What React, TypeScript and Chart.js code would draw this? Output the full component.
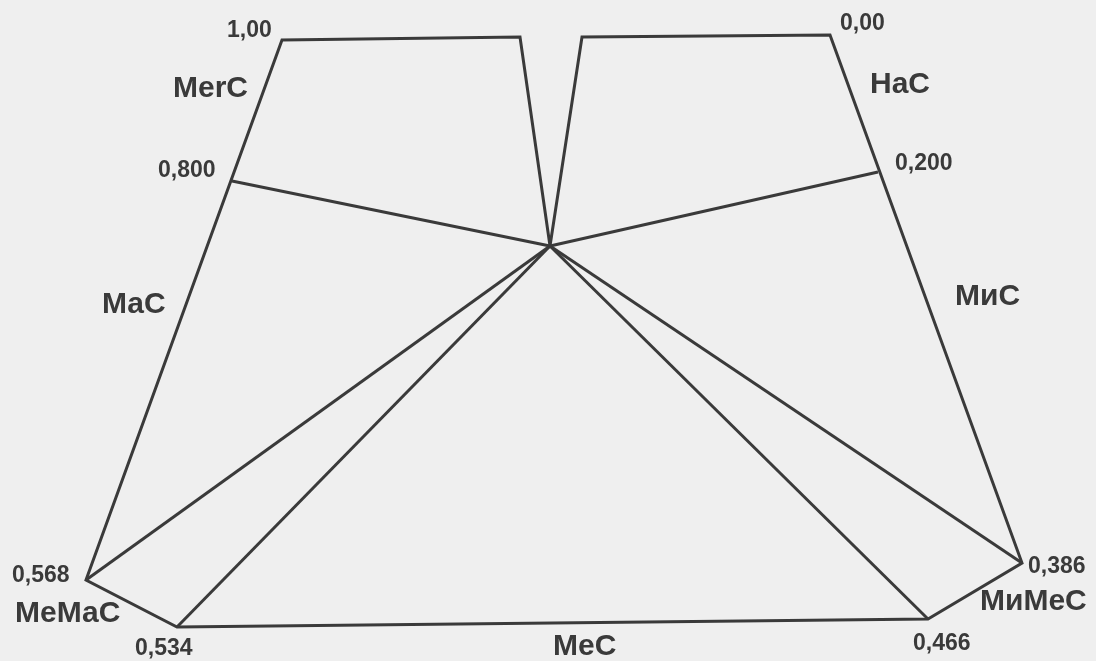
import React, { useEffect, useRef } from "react";
import { Chart, registerables } from "chart.js";

Chart.register(...registerables);

// Scale values marked on the diagram (read clockwise from top-left)
const scaleValues = ["1,00", "0,800", "0,568", "0,534", "0,466", "0,386", "0,200", "0,00"];
// Category names of the sectors
const categories = ["МеrС", "МаС", "МеМаС", "МеС", "МиМеС", "МиС", "НаС"];

// Diagram geometry in diagram units (the chart's x / y scales)
const center = { x: 550, y: 246 };
// outer contour, open path starting and ending at the centre:
// centre -> top gap left -> 1,00 -> 0,568 -> 0,534 -> 0,466 -> 0,386 -> 0,00 -> top gap right -> centre
const contourX = [550, 520, 282, 86, 177, 928, 1022, 830, 582, 550];
const contourY = [246, 37, 40, 580, 627, 619, 563, 35, 37, 246];
// spoke ends: 0,800 ; 0,200 ; 0,386 ; 0,466 ; 0,534 ; 0,568
const spokeX = [232, 878, 1022, 928, 177, 86];
const spokeY = [181, 172, 563, 619, 627, 580];

// label anchors (left, baseline) in diagram units
const valueLabelX = [227, 158, 12, 135, 913, 1028, 895, 840];
const valueLabelY = [37, 177, 582, 655, 650, 573, 170, 30];
const categoryLabelX = [173, 102, 15, 553, 980, 955, 870];
const categoryLabelY = [97, 313, 622, 655, 610, 305, 93];

const INK = "#3a3a3a";

export default function App() {
  const ref = useRef<HTMLCanvasElement | null>(null);

  useEffect(() => {
    if (!ref.current) return;
    const bgPlugin = {
      id: "paperBg",
      beforeDraw(chart: any) {
        const { ctx, width, height } = chart;
        ctx.save();
        ctx.fillStyle = "#efefef";
        ctx.fillRect(0, 0, width, height);
        ctx.restore();
      },
    };
    const labelPlugin = {
      id: "diagramLabels",
      afterDatasetsDraw(chart: any) {
        const { ctx } = chart;
        const xs = chart.scales.x;
        const ys = chart.scales.y;
        ctx.save();
        ctx.fillStyle = INK;
        ctx.textAlign = "left";
        ctx.textBaseline = "alphabetic";
        ctx.font = "bold 23px 'Liberation Sans', Arial, sans-serif";
        scaleValues.forEach((t, i) => {
          ctx.fillText(t, xs.getPixelForValue(valueLabelX[i]), ys.getPixelForValue(valueLabelY[i]));
        });
        ctx.font = "bold 30px 'Liberation Sans', Arial, sans-serif";
        categories.forEach((t, i) => {
          ctx.fillText(t, xs.getPixelForValue(categoryLabelX[i]), ys.getPixelForValue(categoryLabelY[i]));
        });
        ctx.restore();
      },
    };

    const lineStyle = {
      showLine: true,
      pointRadius: 0,
      borderColor: INK,
      borderWidth: 3,
      borderJoinStyle: "miter" as const,
      borderCapStyle: "butt" as const,
      fill: false,
      tension: 0,
    };

    const datasets: any[] = [
      {
        ...lineStyle,
        label: "contour",
        data: contourX.map((x, i) => ({ x, y: contourY[i] })),
      },
      ...spokeX.map((x, i) => ({
        ...lineStyle,
        label: "spoke " + i,
        data: [
          { x: center.x, y: center.y },
          { x, y: spokeY[i] },
        ],
      })),
    ];

    const chart = new Chart(ref.current, {
      type: "scatter",
      data: { datasets },
      options: {
        animation: false,
        responsive: false,
        layout: { padding: 0 },
        plugins: { legend: { display: false }, tooltip: { enabled: false } },
        scales: {
          x: { type: "linear", min: 0, max: 1096, display: false },
          y: { type: "linear", min: 0, max: 661, reverse: true, display: false },
        },
      },
      plugins: [bgPlugin, labelPlugin],
    });
    return () => chart.destroy();
  }, []);

  return (
    <div style={{ position: "fixed", left: 0, top: 0, width: 1096, height: 661 }}>
      <canvas ref={ref} width={1096} height={661} style={{ width: 1096, height: 661 }} />
    </div>
  );
}
